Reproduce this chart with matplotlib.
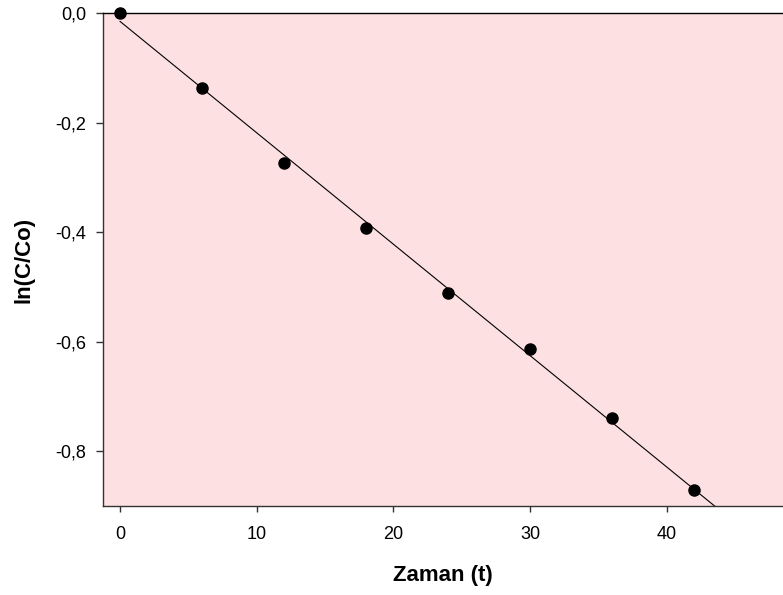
import matplotlib
matplotlib.use("Agg")
import matplotlib.pyplot as plt
import numpy as np

plt.rcParams['font.family'] = ['Liberation Sans', 'DejaVu Sans']

# zaman ve ln(C/Co) değerleri
t = [0, 6, 12, 18, 24, 30, 36, 42]
lnC = [0.0, -0.137, -0.274, -0.393, -0.511, -0.614, -0.740, -0.871]
xticks = [0, 10, 20, 30, 40]
yticks = [0.0, -0.2, -0.4, -0.6, -0.8]
ytick_labels = ["0,0", "-0,2", "-0,4", "-0,6", "-0,8"]

fig = plt.figure(figsize=(7.83, 5.95), dpi=100)
ax = fig.add_axes([103 / 783, 1 - 506 / 595, 1 - 103 / 783, (506 - 13) / 595])
ax.set_facecolor('#fde0e1')

# doğrusal regresyon
k, b = np.polyfit(t, lnC, 1)
xx = np.array([0, 55])
ax.plot(xx, k * xx + b, color='black', lw=0.8)
ax.plot(t, lnC, 'o', color='black', ms=8, clip_on=False, zorder=5)

ax.set_xlim(-1.25, 48.5)
ax.set_ylim(-0.9, 0.0)
ax.set_xticks(xticks)
ax.set_yticks(yticks)
ax.set_yticklabels(ytick_labels)
ax.spines['right'].set_visible(False)
for s in ['left', 'bottom', 'top']:
    ax.spines[s].set_linewidth(1.0)
ax.spines['bottom'].set_color('#333333')
ax.spines['left'].set_color('#333333')
ax.tick_params(direction='out', width=1, labelsize=13, color='#333333')
ax.tick_params(axis='y', length=5, pad=7)
ax.tick_params(axis='x', length=4.5, pad=10)

ax.set_xlabel("Zaman (t)", fontsize=16, fontweight='bold', labelpad=16)
ax.set_ylabel("ln(C/Co)", fontsize=16, fontweight='bold', labelpad=15)

fig.savefig("out.png", dpi=100)
